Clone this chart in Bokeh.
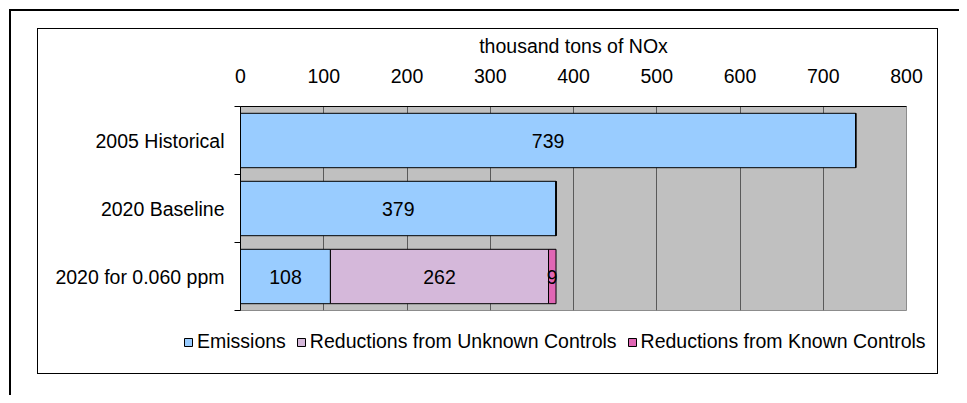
from bokeh.plotting import figure
from bokeh.models import (ColumnDataSource, Legend, LegendItem, FixedTicker, Range1d,
                          InlineStyleSheet)
from bokeh.embed import file_html
from bokeh.resources import INLINE
from bokeh.core.properties import value

# ---- data ----
categories = ["2005 Historical", "2020 Baseline", "2020 for 0.060 ppm"]
emissions = [739, 379, 108]
unknown_controls = [0, 0, 262]
known_controls = [0, 0, 9]
series_names = ["Emissions", "Reductions from Unknown Controls", "Reductions from Known Controls"]
series_colors = ["#99CCFF", "#D5B8DA", "#E066B4"]
x_ticks = [0, 100, 200, 300, 400, 500, 600, 700, 800]
axis_title = "thousand tons of NOx"

FONT = "Liberation Sans"
FS = "19.5px"

n = len(categories)
ypos = [n - i - 0.5 for i in range(n)]

series = [emissions, unknown_controls, known_controls]
starts = []
ends = []
acc = [0] * n
for s in series:
    starts.append(list(acc))
    acc = [a + v for a, v in zip(acc, s)]
    ends.append(list(acc))

# ---------------- chart ----------------
p = figure(frame_width=666, frame_height=204, title=None,
           x_range=Range1d(x_ticks[0], x_ticks[-1]), y_range=Range1d(0, n),
           x_axis_location="above", output_backend="svg", toolbar_location=None,
           min_border_left=240, min_border_right=53, min_border_top=106, min_border_bottom=85)

p.background_fill_color = "#C0C0C0"
p.border_fill_color = "white"
p.outline_line_color = "#8C8C8C"
p.outline_line_width = 1

p.xgrid.ticker = FixedTicker(ticks=x_ticks)
p.xgrid.grid_line_color = "#5A5A5A"
p.xgrid.grid_line_width = 1
p.ygrid.grid_line_color = None

xa = p.xaxis[0]
xa.ticker = FixedTicker(ticks=x_ticks)
xa.axis_label = axis_title
xa.axis_label_text_font = FONT
xa.axis_label_text_font_size = FS
xa.axis_label_text_font_style = "normal"
xa.axis_label_text_color = "black"
xa.axis_label_standoff = 9
xa.major_label_text_font = FONT
xa.major_label_text_font_size = FS
xa.major_label_text_color = "black"
xa.major_label_standoff = 24
xa.major_tick_out = 0
xa.major_tick_in = 0
xa.minor_tick_out = 0
xa.minor_tick_in = 0
xa.axis_line_color = "black"

ya = p.yaxis[0]
ya.ticker = FixedTicker(ticks=ypos, minor_ticks=list(range(n + 1)))
ya.major_label_overrides = {y: c for y, c in zip(ypos, categories)}
ya.major_label_text_font = FONT
ya.major_label_text_font_size = FS
ya.major_label_text_color = "black"
ya.major_label_standoff = 10
ya.major_tick_out = 0
ya.major_tick_in = 0
ya.minor_tick_out = 6
ya.minor_tick_in = 0
ya.minor_tick_line_color = "black"
ya.axis_line_color = "black"

for k, name in enumerate(series_names):
    src = ColumnDataSource(dict(y=ypos, left=starts[k], right=ends[k]))
    p.hbar(y="y", left="left", right="right", height=0.8, source=src,
           fill_color=series_colors[k], line_color="black", line_width=1)

lx, ly, lt = [], [], []
for k in range(len(series)):
    for i in range(n):
        if series[k][i] > 0:
            lx.append((starts[k][i] + ends[k][i]) / 2)
            ly.append(ypos[i])
            lt.append(str(series[k][i]))
p.text(x=lx, y=ly, text=lt, text_align="center", text_baseline="middle",
       text_font=value(FONT), text_font_size=FS, text_color="black")

# page frames (outer page border and chart border)
p.stylesheets = [InlineStyleSheet(css="""
:host::before { content: ""; position: absolute; left: 9px; top: 9px; right: 0px; bottom: 0px;
  border-left: 2px solid #000; border-top: 2px solid #000; pointer-events: none; z-index: 100; }
:host::after { content: ""; position: absolute; left: 37px; top: 28px; width: 899px; height: 344px;
  border: 1px solid #000; pointer-events: none; z-index: 100; }
""")]

# ---------------- legend strip (overlaid on the chart's bottom border) ----------------
lg = figure(width=959, height=65, title=None, x_range=Range1d(0, 1), y_range=Range1d(10, 11),
            x_axis_location=None, y_axis_location=None, output_backend="svg",
            toolbar_location=None, min_border=0)
lg.outline_line_color = None
lg.background_fill_color = None
lg.border_fill_color = None
lg.grid.visible = False
lg.styles = {"margin-top": "-65px"}
legend_renderers = []
for k, name in enumerate(series_names):
    src = ColumnDataSource(dict(y=ypos, left=starts[k], right=ends[k]))
    legend_renderers.append(lg.hbar(y="y", left="left", right="right", height=0.8, source=src,
                                    fill_color=series_colors[k], line_color="black", line_width=1))

legend = Legend(items=[LegendItem(label=nm, renderers=[r]) for nm, r in zip(series_names, legend_renderers)],
                orientation="horizontal", location=(183, 42))
legend.border_line_alpha = 0
legend.background_fill_alpha = 0
legend.label_text_font = FONT
legend.label_text_font_size = FS
legend.label_text_color = "black"
legend.glyph_width = 10
legend.glyph_height = 10
legend.label_standoff = 4
legend.spacing = 10
legend.padding = 0
legend.margin = 0
lg.add_layout(legend)

open("out.html", "w").write(file_html([p, lg], INLINE))
